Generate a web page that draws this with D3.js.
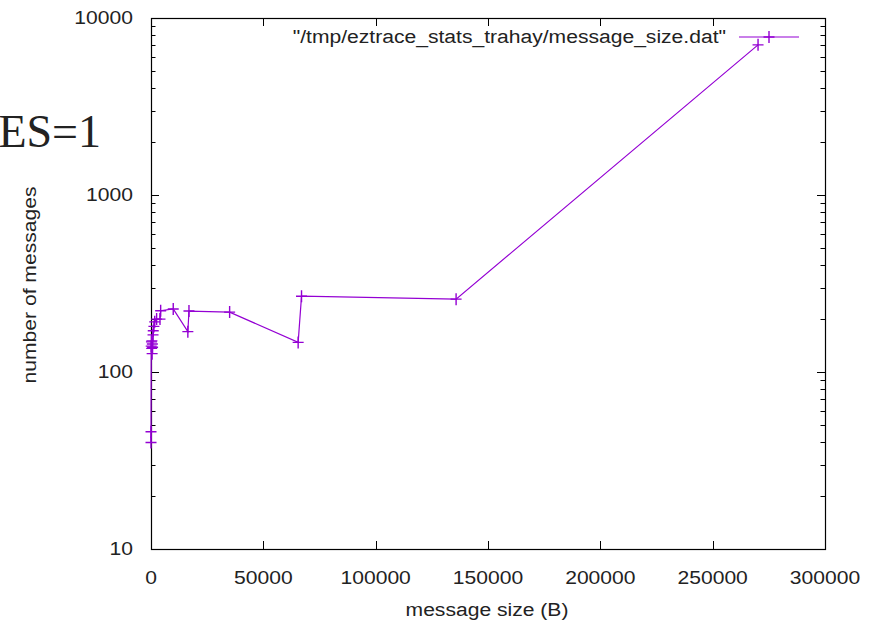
<!DOCTYPE html>
<html>
<head>
<meta charset="utf-8">
<script src="https://cdn.jsdelivr.net/npm/d3@7"></script>
<style>
  body { margin: 0; background: #fff; }
  text { font-family: "Liberation Sans", Arial, sans-serif; fill: #222; font-size: 19px; }
</style>
</head>
<body>
<svg id="chart" width="873" height="623"></svg>
<script>
// message sizes (B) and counts, in file order
var sizes  = [0, 0, 100, 200, 300, 400, 500, 600, 700, 900, 1000, 1300, 1650, 2500, 4000, 4300, 9900, 16400, 16900, 35000, 65500, 67000, 135800, 270200];
var counts = [46, 40, 140, 148, 136, 150, 127, 144, 138, 162, 171, 181, 192, 199, 199, 222, 227, 169, 221, 218, 147, 268, 258, 7050];

var xTicks = [0, 50000, 100000, 150000, 200000, 250000, 300000];
var yTicks = [10, 100, 1000, 10000];
var legendLabel = '"/tmp/eztrace_stats_trahay/message_size.dat"';

var pLeft = 151, pRight = 825, pTop = 18, pBottom = 549;
var color = "#9400d3";
var sx = 1.11; // text looks a little stretched sideways

var svg = d3.select('svg#chart');

var x = d3.scaleLinear().domain([0, 300000]).range([pLeft, pRight]);
var y = d3.scaleLog().domain([10, 10000]).range([pBottom, pTop]);

function label(tx, ty, str, anchor, rot) {
  return svg.append('text')
    .attr('transform', 'translate(' + tx + ',' + ty + ')' + (rot ? ' rotate(-90) scale(' + sx + ',1)' : ' scale(' + sx + ',1)'))
    .attr('text-anchor', anchor)
    .text(str);
}

// stray text fragment at the left
svg.append('text')
  .attr('x', 101)
  .attr('y', 147)
  .attr('text-anchor', 'end')
  .style('font-family', '"Liberation Serif", serif')
  .style('font-size', '46px')
  .text('ES=1');

// minor log ticks
var minor = [];
yTicks.slice(0, -1).forEach(function(t) {
  for (var k = 2; k < 10; k++) minor.push(t * k);
});

var ticks = svg.append('g').attr('stroke', '#000').attr('stroke-width', 1);

minor.forEach(function(v) {
  var yy = Math.round(y(v)) + 0.5;
  ticks.append('line').attr('x1', pLeft).attr('x2', pLeft + 4.5).attr('y1', yy).attr('y2', yy);
  ticks.append('line').attr('x1', pRight).attr('x2', pRight - 4.5).attr('y1', yy).attr('y2', yy);
});
yTicks.forEach(function(v) {
  var yy = Math.round(y(v)) + 0.5;
  ticks.append('line').attr('x1', pLeft).attr('x2', pLeft + 8).attr('y1', yy).attr('y2', yy);
  ticks.append('line').attr('x1', pRight).attr('x2', pRight - 8).attr('y1', yy).attr('y2', yy);
  label(133, y(v) + 6, v, 'end');
});
xTicks.forEach(function(v) {
  var xx = Math.round(x(v)) + 0.5;
  ticks.append('line').attr('x1', xx).attr('x2', xx).attr('y1', pBottom).attr('y2', pBottom - 8);
  ticks.append('line').attr('x1', xx).attr('x2', xx).attr('y1', pTop).attr('y2', pTop + 8);
  label(x(v), 584, v, 'middle');
});

// frame
svg.append('rect')
  .attr('x', pLeft + 0.5).attr('y', pTop + 0.5)
  .attr('width', pRight - pLeft).attr('height', pBottom - pTop)
  .attr('fill', 'none').attr('stroke', '#000').attr('stroke-width', 1.2);

// axis labels
label(487, 616, 'message size (B)', 'middle');
label(36, 285, 'number of messages', 'middle', true);

// data line
var pts = sizes.map((s, i) => [s, counts[i]]);
var line = d3.line().x(d => x(d[0])).y(d => y(d[1]));

svg.append('path')
  .datum(pts)
  .attr('d', line)
  .attr('fill', 'none')
  .attr('stroke', color)
  .attr('stroke-width', 1.2);

function plus(g, cx, cy) {
  g.append('path')
    .attr('d', 'M' + (cx - 5.5) + ',' + cy + 'H' + (cx + 5.5) + 'M' + cx + ',' + (cy - 6) + 'V' + (cy + 6))
    .attr('stroke', color)
    .attr('stroke-width', 1.4)
    .attr('fill', 'none');
}

var marks = svg.append('g');
pts.forEach(d => plus(marks, x(d[0]), y(d[1])));

// legend
label(726, 43, legendLabel, 'end');
svg.append('line')
  .attr('x1', 739).attr('x2', 799).attr('y1', 37).attr('y2', 37)
  .attr('stroke', color).attr('stroke-width', 1.2);
plus(svg, 769, 37);
</script>
</body>
</html>
